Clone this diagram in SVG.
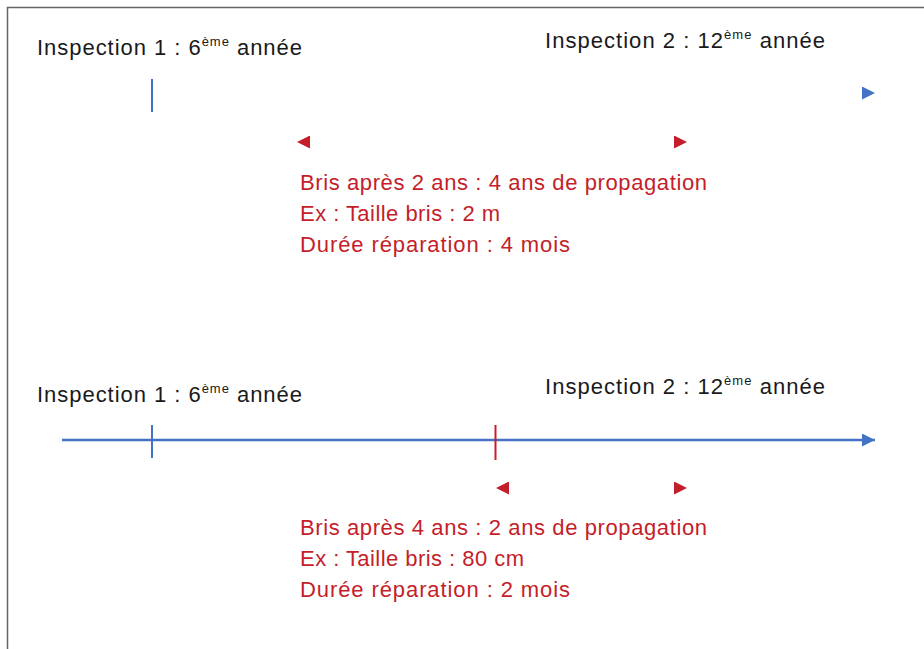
<svg xmlns="http://www.w3.org/2000/svg" width="924" height="649" viewBox="0 0 924 649">
<style>
.lbl{font-family:"Liberation Sans",Arial,sans-serif;font-size:22px;fill:#1a1a1a}
.red{font-family:"Liberation Sans",Arial,sans-serif;font-size:22px;fill:#C41E2A}
.sup{font-size:13px}
.blue{stroke:#4472C4;stroke-width:2.5;fill:none}
.tick{stroke:#4472C4;stroke-width:2}
.rtick{stroke:#C41E2A;stroke-width:2}
.ghost{stroke:none;fill:none}
</style>
<defs>
<marker id="ab" viewBox="0 0 10 10" refX="10" refY="5" markerWidth="14" markerHeight="13" markerUnits="userSpaceOnUse" orient="auto-start-reverse"><path d="M0,0 L10,5 L0,10 z" fill="#4472C4"/></marker>
<marker id="ar" viewBox="0 0 10 10" refX="10" refY="5" markerWidth="13" markerHeight="13" markerUnits="userSpaceOnUse" orient="auto-start-reverse"><path d="M0,0 L10,5 L0,10 z" fill="#C41E2A"/></marker>
</defs>
<rect width="924" height="649" fill="#fff"/>
<rect x="7.5" y="7.5" width="940" height="660" fill="none" stroke="#666" stroke-width="1.5"/>
<g id="connectors">
<path class="ghost" d="M152,93 L875,93" marker-end="url(#ab)"/>
<path class="ghost" d="M297,142 L687,142" marker-start="url(#ar)" marker-end="url(#ar)"/>
<path class="blue" d="M62,440 L875,440" marker-end="url(#ab)"/>
<path class="ghost" d="M496,488 L687,488" marker-start="url(#ar)" marker-end="url(#ar)"/>
</g>
<g id="top-insp1">
<line class="tick" x1="152" y1="79" x2="152" y2="112"/>
<text class="lbl" x="37" y="55" textLength="265" lengthAdjust="spacing">Inspection 1 : 6<tspan class="sup" dy="-9">ème</tspan><tspan dy="9"> année</tspan></text>
</g>
<g id="top-insp2">
<text class="lbl" x="545" y="48" textLength="280" lengthAdjust="spacing">Inspection 2 : 12<tspan class="sup" dy="-9">ème</tspan><tspan dy="9"> année</tspan></text>
</g>
<g id="top-note">
<text class="red" x="300" y="190" textLength="407" lengthAdjust="spacing">Bris après 2 ans : 4 ans de propagation</text>
<text class="red" x="300" y="221" textLength="200" lengthAdjust="spacing">Ex : Taille bris : 2 m</text>
<text class="red" x="300" y="252" textLength="270" lengthAdjust="spacing">Durée réparation : 4 mois</text>
</g>
<g id="bot-insp1">
<line class="tick" x1="152" y1="425" x2="152" y2="458"/>
<text class="lbl" x="37" y="402" textLength="265" lengthAdjust="spacing">Inspection 1 : 6<tspan class="sup" dy="-9">ème</tspan><tspan dy="9"> année</tspan></text>
</g>
<g id="bot-break">
<line class="rtick" x1="495.5" y1="425" x2="495.5" y2="460"/>
</g>
<g id="bot-insp2">
<text class="lbl" x="545" y="394" textLength="280" lengthAdjust="spacing">Inspection 2 : 12<tspan class="sup" dy="-9">ème</tspan><tspan dy="9"> année</tspan></text>
</g>
<g id="bot-note">
<text class="red" x="300" y="535" textLength="407" lengthAdjust="spacing">Bris après 4 ans : 2 ans de propagation</text>
<text class="red" x="300" y="566" textLength="224" lengthAdjust="spacing">Ex : Taille bris : 80 cm</text>
<text class="red" x="300" y="597" textLength="270" lengthAdjust="spacing">Durée réparation : 2 mois</text>
</g>
</svg>
